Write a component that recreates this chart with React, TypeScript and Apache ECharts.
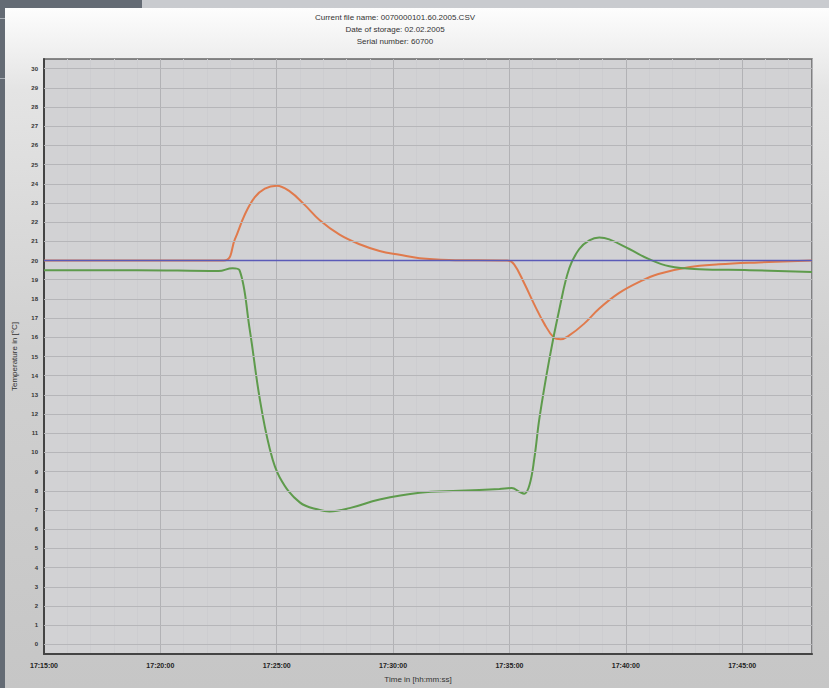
import React, { useEffect, useRef } from "react";
import * as echarts from "echarts";

// minutes after 17:15:00
const timeTicks = ["17:15:00", "17:20:00", "17:25:00", "17:30:00", "17:35:00", "17:40:00", "17:45:00"];

const titleLines = [
  "Current file name: 0070000101.60.2005.CSV",
  "Date of storage: 02.02.2005",
  "Serial number: 60700",
];

const tempTicks = Array.from({ length: 31 }, (_, i) => i);

const blueSeries: [number, number][] = [
  [0, 20],
  [33, 20],
];

const greenSeries: [number, number][] = [
  [0, 19.5], [4, 19.5], [7.5, 19.45], [8.1, 19.6], [8.4, 19.5], [8.84, 16.4], [9.27, 12.8],
  [9.7, 10.2], [10.13, 8.7], [10.99, 7.4], [11.85, 7.0], [12.27, 6.93], [13.13, 7.1],
  [14.42, 7.55], [16.14, 7.9], [17.85, 8.0], [19.57, 8.1], [20.1, 8.15], [20.43, 7.95],
  [20.64, 7.85], [20.86, 8.3], [21.07, 9.7], [21.29, 11.8], [21.72, 14.9], [22.15, 17.5],
  [22.57, 19.6], [23.0, 20.6], [23.43, 21.05], [23.86, 21.2], [24.29, 21.1], [25.15, 20.6],
  [26.0, 20.07], [26.87, 19.7], [28.15, 19.55], [30.3, 19.5], [33, 19.4],
];

const orangeSeries: [number, number][] = [
  [0, 20], [7.73, 20], [8.2, 21.1], [8.63, 22.4], [9.06, 23.3], [9.49, 23.75], [10.0, 23.9],
  [10.56, 23.6], [11.2, 22.9], [11.85, 22.1], [12.7, 21.35], [13.56, 20.85], [14.42, 20.5],
  [15.28, 20.3], [16.14, 20.12], [17.4, 20.03], [19.9, 20], [20.2, 19.8], [20.64, 18.8],
  [21.07, 17.7], [21.5, 16.7], [21.9, 16.0], [22.2, 15.9], [22.57, 16.1], [23.2, 16.7],
  [23.86, 17.5], [24.7, 18.3], [25.6, 18.9], [26.4, 19.3], [27.7, 19.65], [29.0, 19.8],
  [30.7, 19.9], [33, 20],
];

export default function App() {
  const ref = useRef<HTMLDivElement>(null);
  useEffect(() => {
    if (!ref.current) return;
    const chart = echarts.init(ref.current, null, { renderer: "svg" });
    chart.setOption({
      animation: false,
      backgroundColor: "transparent",
      graphic: titleLines.map((t, i) => ({
        type: "text",
        x: 395,
        y: 13 + i * 12,
        style: {
          text: t,
          align: "center",
          verticalAlign: "top",
          fill: "#333",
          font: "8px 'Liberation Sans', Arial, sans-serif",
        },
      })),
      grid: {
        left: 44,
        top: 59,
        right: 17,
        bottom: 33,
        show: true,
        backgroundColor: "#d2d2d4",
        borderColor: "#666",
        borderWidth: 1.5,
      },
      xAxis: {
        type: "value",
        min: 0,
        max: 33,
        interval: 5,
        name: "Time in [hh:mm:ss]",
        nameLocation: "middle",
        nameGap: 21,
        nameTextStyle: { color: "#333", fontSize: 8, fontFamily: "Liberation Sans", padding: [0, 0, 0, -20] },
        axisLine: { show: true, onZero: false, lineStyle: { color: "#444", width: 2 } },
        axisTick: { show: false },
        axisLabel: {
          color: "#222",
          fontSize: 7,
          fontWeight: "bold",
          fontFamily: "Liberation Sans",
          margin: 8,
          formatter: (v: number) => timeTicks[Math.round(v / 5)] ?? "",
        },
        splitLine: { show: true, lineStyle: { color: "#b2b2b5", width: 1 } },
        minorTick: { show: false, splitNumber: 5 },
        minorSplitLine: { show: true, lineStyle: { color: "#cdcdd0", width: 1 } },
      },
      yAxis: {
        type: "value",
        min: -0.5,
        max: 30.5,
        interval: 1,
        name: "Temperature in [°C]",
        nameLocation: "middle",
        nameGap: 26,
        nameTextStyle: { color: "#333", fontSize: 8, fontFamily: "Liberation Sans" },
        axisLine: { show: true, lineStyle: { color: "#444", width: 2 } },
        axisTick: { show: false },
        axisLabel: {
          color: "#333",
          fontSize: 6,
          fontWeight: "bold",
          fontFamily: "Liberation Sans",
          margin: 6,
          formatter: (v: number) => (Number.isInteger(v) ? String(v) : ""),
          customValues: tempTicks,
        },
        splitLine: { show: false },
      },
      series: [
        {
          type: "line",
          data: [],
          markLine: {
            silent: true,
            symbol: "none",
            label: { show: false },
            lineStyle: { color: "#b6b6b9", width: 1, type: "solid" },
            data: tempTicks.filter((v) => v !== 20).map((v) => ({ yAxis: v })),
          },
          z: 1,
        },
        {
          type: "line",
          data: orangeSeries,
          smooth: 0.4,
          showSymbol: false,
          lineStyle: { color: "#e07a4c", width: 2 },
          z: 2,
        },
        {
          type: "line",
          data: greenSeries,
          smooth: 0.4,
          showSymbol: false,
          lineStyle: { color: "#5e9b4c", width: 2 },
          z: 3,
        },
        {
          type: "line",
          data: blueSeries,
          showSymbol: false,
          lineStyle: { color: "#5b5bb8", width: 1.5 },
          z: 4,
        },
      ],
    });
    return () => chart.dispose();
  }, []);

  return (
    <div style={{ position: "fixed", left: 0, top: 0, width: 829, height: 688, background: "#646b74", overflow: "hidden" }}>
      <div style={{ position: "absolute", left: 142, top: 0, width: 687, height: 8, background: "#c9cbcf" }} />
      <div style={{ position: "absolute", left: 0, top: 18, width: 5, height: 1, background: "#aab0b6" }} />
      <div style={{ position: "absolute", left: 0, top: 78, width: 5, height: 1, background: "#aab0b6" }} />
      <div
        style={{
          position: "absolute",
          left: 5,
          top: 8,
          width: 824,
          height: 680,
          background: "linear-gradient(#fdfdfd 0%, #e4e4e4 12%, #d0d0d0 50%, #c6c6c6 100%)",
        }}
      />
      <div ref={ref} style={{ position: "absolute", left: 0, top: 0, width: 829, height: 688 }} />
    </div>
  );
}
